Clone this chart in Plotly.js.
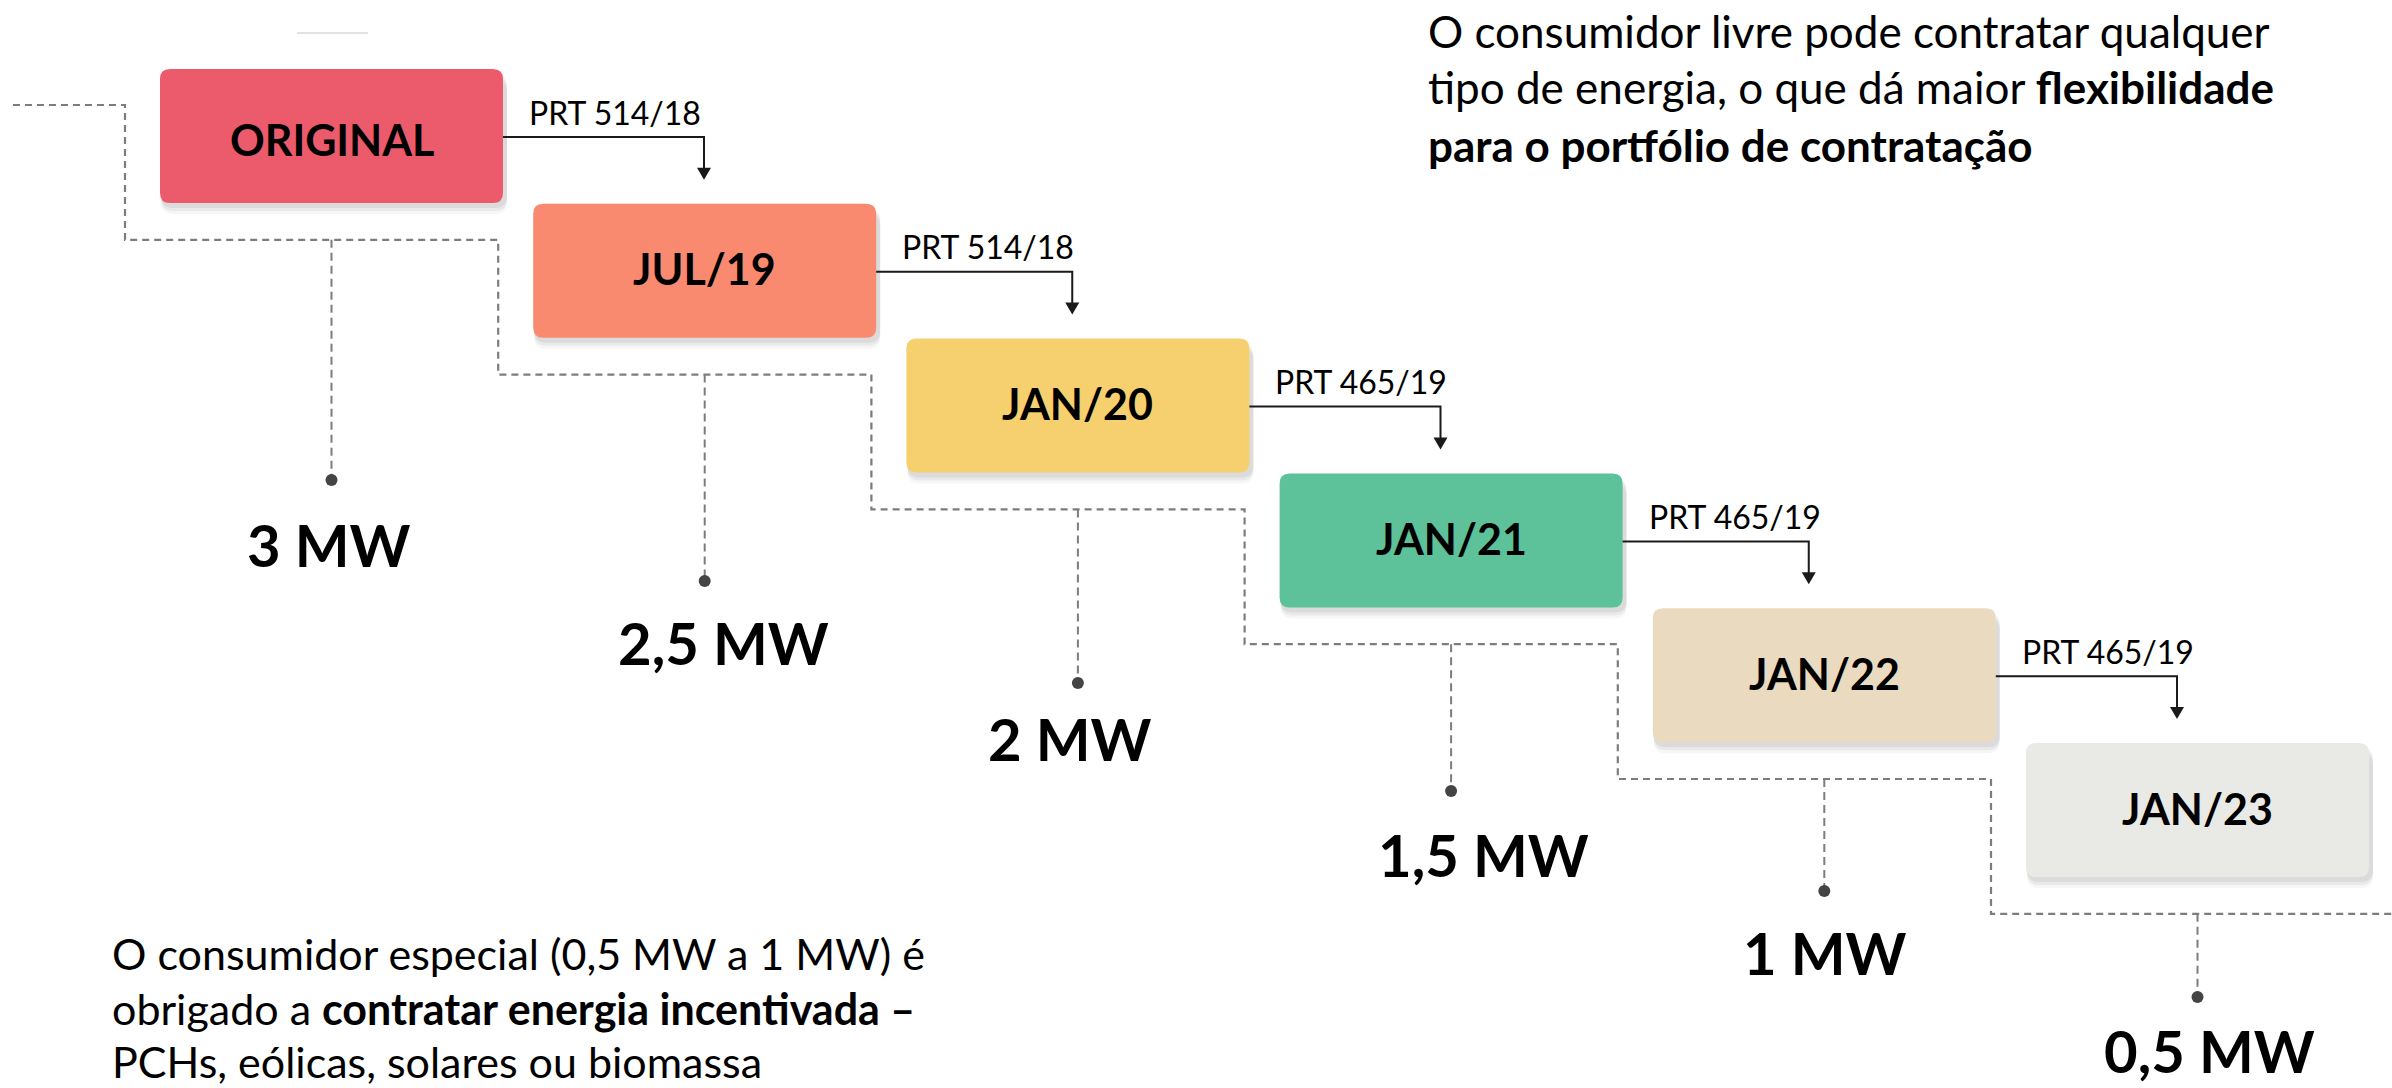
<!DOCTYPE html>
<html>
<head>
<meta charset="utf-8">
<script src="https://cdn.plot.ly/plotly-3.0.1.min.js"></script>
<style>
  html, body { margin: 0; padding: 0; background: #ffffff; }
  #chart { width: 2392px; height: 1088px; }
</style>
</head>
<body>
<div id="chart"></div>
<script>
// ---------- data ----------
const stages = ['ORIGINAL', 'JUL/19', 'JAN/20', 'JAN/21', 'JAN/22', 'JAN/23'];
const limitsMW = [3, 2.5, 2, 1.5, 1, 0.5];
const ordinances = ['PRT 514/18', 'PRT 514/18', 'PRT 465/19', 'PRT 465/19', 'PRT 465/19'];
const noteFree = [
  'O consumidor livre pode contratar qualquer',
  'tipo de energia, o que dá maior <b>flexibilidade</b>',
  '<b>para o portfólio de contratação</b>'
];
const noteSpecial = [
  'O consumidor especial (0,5 MW a 1 MW) é',
  'obrigado a <b>contratar energia incentivada –</b>',
  'PCHs, eólicas, solares ou biomassa'
];

// ---------- styles / layout geometry ----------
const stageColors = ['#EC5B6B', '#F98A70', '#F6CF6F', '#5DC199', '#EADAC0', '#E9E9E5'];
const W = 2392, H = 1088;
const BOX_X0 = 160, BOX_DX = 373.2, BOX_Y0 = 69, BOX_DY = 134.8, BOX_W = 343, BOX_H = 134, RAD = 10;
const ARROW_X0 = 704, ARROW_DX = 368.25;
const STEP_OFF = 36, STEP_XOFF = 35;
const DOT_Y = [480, 581, 683, 791, 891, 997];
const LABEL_POS = [[329, 544], [723, 642], [1070, 738], [1483, 854], [1825, 952], [2209, 1050]];
const FONT = 'Lato, "Open Sans", sans-serif';
const DASH_COLOR = '#7d7d7d';

function roundRect(x, y, w, h, r) {
  return `M${x + r},${y} L${x + w - r},${y} Q${x + w},${y} ${x + w},${y + r} ` +
         `L${x + w},${y + h - r} Q${x + w},${y + h} ${x + w - r},${y + h} ` +
         `L${x + r},${y + h} Q${x},${y + h} ${x},${y + h - r} ` +
         `L${x},${y + r} Q${x},${y} ${x + r},${y} Z`;
}

const shapes = [];
const annotations = [];
const traces = [];

const boxLeft = i => BOX_X0 + i * BOX_DX;
const boxTop = i => BOX_Y0 + i * BOX_DY;

// faint artifact line top-left
shapes.push({type: 'line', xref: 'x', yref: 'y', x0: 297, x1: 368, y0: 33, y1: 33,
  line: {color: '#e2e2e2', width: 2}, layer: 'below'});

// stepped dashed line
const stepX = [13], stepY = [BOX_Y0 + STEP_OFF];
stages.forEach((s, k) => {
  const vx = boxLeft(k) - STEP_XOFF;
  const lvA = BOX_Y0 + STEP_OFF + k * BOX_DY;
  const lvB = lvA + BOX_DY;
  stepX.push(vx, vx); stepY.push(lvA, lvB);
});
stepX.push(W); stepY.push(BOX_Y0 + STEP_OFF + stages.length * BOX_DY);
traces.push({x: stepX, y: stepY, mode: 'lines', type: 'scatter', hoverinfo: 'skip',
  line: {color: DASH_COLOR, width: 2.2, dash: '7px,5px'}});

// drop lines + dots
const dotX = [], dotY = [];
stages.forEach((s, i) => {
  const cx = boxLeft(i) + BOX_W / 2;
  const lv = BOX_Y0 + STEP_OFF + (i + 1) * BOX_DY;
  traces.push({x: [cx, cx], y: [lv, DOT_Y[i]], mode: 'lines', type: 'scatter', hoverinfo: 'skip',
    line: {color: DASH_COLOR, width: 2, dash: '8px,5px'}});
  dotX.push(cx); dotY.push(DOT_Y[i]);
});
traces.push({x: dotX, y: dotY, mode: 'markers', type: 'scatter', hoverinfo: 'skip',
  marker: {color: '#444444', size: 12}});

// boxes with soft shadow
stages.forEach((s, i) => {
  const x = boxLeft(i), y = boxTop(i);
  [[11, 0.035], [8, 0.05], [5, 0.06]].forEach(([o, a]) => {
    shapes.push({type: 'path', xref: 'x', yref: 'y', layer: 'below',
      path: roundRect(x + 1, y + o, BOX_W + 3, BOX_H, RAD + 2),
      fillcolor: `rgba(0,0,0,${a})`, line: {width: 0}});
  });
  shapes.push({type: 'path', xref: 'x', yref: 'y', layer: 'below',
    path: roundRect(x, y, BOX_W, BOX_H, RAD),
    fillcolor: stageColors[i], line: {width: 0}});
  annotations.push({xref: 'x', yref: 'y', x: x + BOX_W / 2, y: y + BOX_H / 2 + (i === 0 ? 3 : -2),
    text: '<b>' + s + '</b>', showarrow: false, xanchor: 'center', yanchor: 'middle',
    font: {family: FONT, size: 43, color: '#000'}});

  const v = limitsMW[i].toString().replace('.', ',');
  annotations.push({xref: 'x', yref: 'y', x: LABEL_POS[i][0], y: LABEL_POS[i][1],
    text: '<b>' + v + ' MW</b>', showarrow: false, xanchor: 'center', yanchor: 'middle',
    font: {family: FONT, size: 58, color: '#000'}});
});

// arrows between boxes
ordinances.forEach((p, i) => {
  const xr = boxLeft(i) + BOX_W;
  const ay = boxTop(i) + BOX_H / 2 + 1;
  const ax = ARROW_X0 + i * ARROW_DX;
  const tip = boxTop(i + 1) - 24;
  shapes.push({type: 'path', xref: 'x', yref: 'y',
    path: `M${xr},${ay} L${ax},${ay} L${ax},${tip - 10}`,
    line: {color: '#1a1a1a', width: 2}});
  shapes.push({type: 'path', xref: 'x', yref: 'y',
    path: `M${ax - 7},${tip - 12} L${ax + 7},${tip - 12} L${ax},${tip} Z`,
    fillcolor: '#1a1a1a', line: {width: 0}});
  annotations.push({xref: 'x', yref: 'y', x: xr + 24, y: ay - 25,
    text: p, showarrow: false, xanchor: 'left', yanchor: 'middle',
    font: {family: FONT, size: 32, color: '#000'}});
});

// notes
const freeY = [31, 87, 145];
noteFree.forEach((t, k) => annotations.push({xref: 'x', yref: 'y', x: 1426, y: freeY[k],
  text: t, showarrow: false, xanchor: 'left', yanchor: 'middle',
  font: {family: FONT, size: 44, color: '#000'}}));
const specY = [953, 1008, 1061];
noteSpecial.forEach((t, k) => annotations.push({xref: 'x', yref: 'y', x: 110, y: specY[k],
  text: t, showarrow: false, xanchor: 'left', yanchor: 'middle',
  font: {family: FONT, size: 43, color: '#000'}}));

const layout = {
  width: W, height: H,
  margin: {l: 0, r: 0, t: 0, b: 0},
  paper_bgcolor: '#ffffff', plot_bgcolor: '#ffffff',
  showlegend: false,
  xaxis: {range: [0, W], visible: false, fixedrange: true},
  yaxis: {range: [H, 0], visible: false, fixedrange: true},
  shapes: shapes,
  annotations: annotations
};

Plotly.newPlot('chart', traces, layout, {displayModeBar: false, staticPlot: true});
</script>
</body>
</html>
